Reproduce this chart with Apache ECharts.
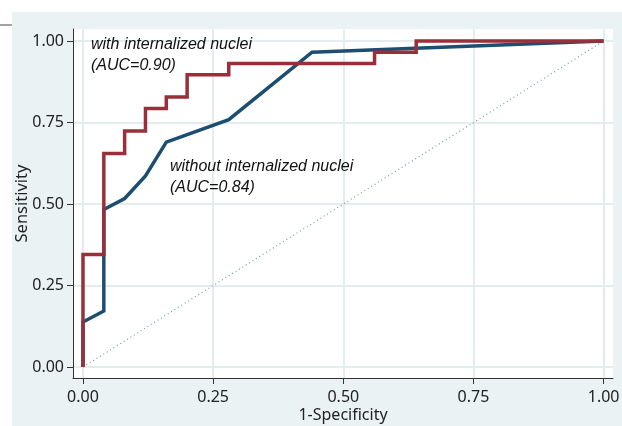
<!DOCTYPE html>
<html>
<head>
<meta charset="utf-8">
<script src="https://cdn.jsdelivr.net/npm/echarts@6/dist/echarts.min.js"></script>
<style>
html,body{margin:0;padding:0;background:#ffffff;}
#chart{width:622px;height:426px;}
</style>
</head>
<body>
<div id="chart"></div>
<script>
// ROC curve data: [1-Specificity, Sensitivity]
const withNuclei = [
  [0, 0], [0, 0.345], [0.04, 0.345], [0.04, 0.655], [0.08, 0.655], [0.08, 0.724],
  [0.12, 0.724], [0.12, 0.793], [0.16, 0.793], [0.16, 0.828], [0.20, 0.828],
  [0.20, 0.897], [0.28, 0.897], [0.28, 0.931], [0.56, 0.931], [0.56, 0.966],
  [0.64, 0.966], [0.64, 1.0], [1.0, 1.0]
];
const withoutNuclei = [
  [0, 0], [0, 0.138], [0.04, 0.172], [0.04, 0.483], [0.08, 0.517], [0.12, 0.586],
  [0.16, 0.690], [0.28, 0.759], [0.44, 0.966], [1.0, 1.0]
];
const reference = [[0, 0], [1, 1]];
const tickValues = [0, 0.25, 0.5, 0.75, 1];
const labelWith = ['with internalized nuclei', '(AUC=0.90)'];
const labelWithout = ['without internalized nuclei', '(AUC=0.84)'];

const chart = echarts.init(document.getElementById('chart'), null, {renderer: 'canvas'});
const gridColor = '#e3edef';
const fmt = v => v.toFixed(2);

const option = {
  backgroundColor: '#ffffff',
  animation: false,
  graphic: [
    {type: 'rect', left: 12, top: 12, shape: {width: 610, height: 414}, style: {fill: '#eaf2f3'}, z: -10, silent: true},
    {type: 'line', shape: {x1: 0, y1: 25, x2: 12, y2: 25}, style: {stroke: '#444', lineWidth: 1}, z: 10},
    {type: 'text', left: 91, top: 34, z: 20, style: {text: labelWith[0] + '\n' + labelWith[1], font: 'italic 16px "Liberation Sans", Arial, sans-serif', fill: '#111', lineHeight: 21}},
    {type: 'text', left: 170, top: 156, z: 20, style: {text: labelWithout[0] + '\n' + labelWithout[1], font: 'italic 16px "Liberation Sans", Arial, sans-serif', fill: '#111', lineHeight: 21}}
  ],
  grid: {left: 73, right: 9, top: 29, bottom: 48, show: true, backgroundColor: '#ffffff', borderWidth: 0,
         containLabel: false, outerBoundsMode: 'none'},
  xAxis: {
    type: 'value', min: -0.0192, max: 1.018,
    name: '1-Specificity', nameLocation: 'middle', nameGap: 29, nameMoveOverlap: false,
    nameTextStyle: {fontFamily: 'Noto Sans', fontSize: 16, color: '#222'},
    axisLine: {show: true, onZero: false, lineStyle: {color: '#333', width: 1}},
    axisTick: {show: true, length: 6, customValues: tickValues, lineStyle: {color: '#333'}},
    axisLabel: {customValues: tickValues, formatter: fmt, fontFamily: 'Noto Sans', fontSize: 16, color: '#222', margin: 11},
    splitLine: {show: true, lineStyle: {color: gridColor, width: 2}}
  },
  yAxis: {
    type: 'value', min: -0.0337, max: 1.037,
    name: 'Sensitivity', nameLocation: 'middle', nameGap: 42, nameMoveOverlap: false,
    nameTextStyle: {fontFamily: 'Noto Sans', fontSize: 16.5, color: '#222'},
    axisLine: {show: true, onZero: false, lineStyle: {color: '#333', width: 1}},
    axisTick: {show: true, length: 6, customValues: tickValues, lineStyle: {color: '#333'}},
    axisLabel: {customValues: tickValues, formatter: fmt, fontFamily: 'Noto Sans', fontSize: 16, color: '#222', margin: 9},
    splitLine: {show: true, lineStyle: {color: gridColor, width: 2}}
  },
  series: [
    {type: 'line', data: reference, symbol: 'none', silent: true, z: 1,
     lineStyle: {color: '#6f9ea3', width: 1.2, type: [1, 3]}},
    {type: 'line', data: withoutNuclei, symbol: 'none', z: 2,
     lineStyle: {color: '#1c4e72', width: 3.5, join: 'miter'}},
    {type: 'line', data: withNuclei, symbol: 'none', z: 3,
     lineStyle: {color: '#9a2f3a', width: 3.5, join: 'miter'}}
  ]
};
chart.setOption(option);
</script>
</body>
</html>
